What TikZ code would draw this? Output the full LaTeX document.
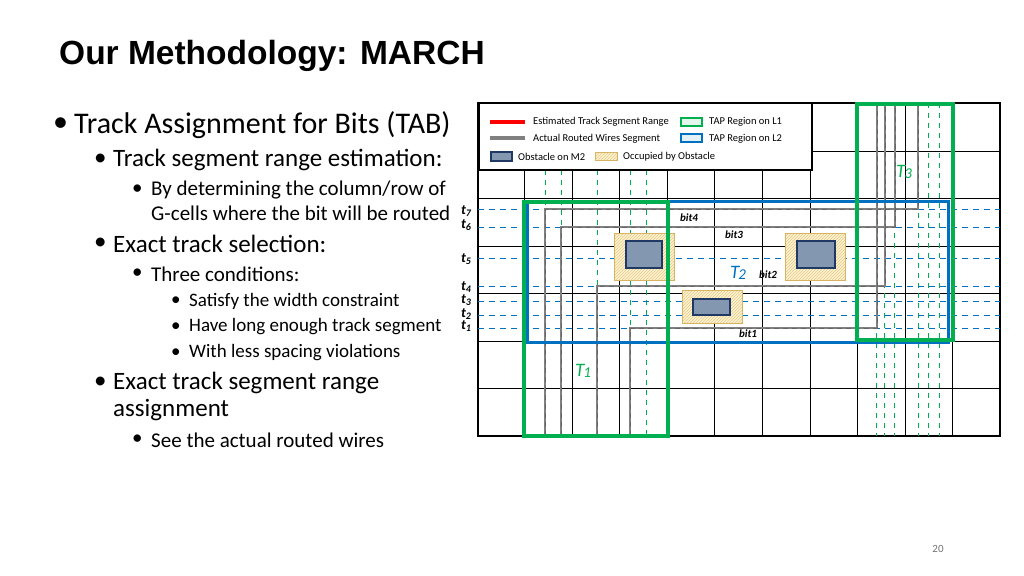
\documentclass[tikz,border=0pt]{standalone}
\usepackage{fontspec}
\setmainfont{Carlito}
\newfontfamily\titlefont{Liberation Sans}
\usetikzlibrary{patterns}
\definecolor{tg}{RGB}{0,176,80}
\definecolor{tb}{RGB}{0,112,192}
\definecolor{obsc}{RGB}{132,151,176}
\definecolor{obsd}{RGB}{31,56,100}
\definecolor{occc}{RGB}{255,242,204}
\definecolor{occd}{RGB}{214,180,100}
\definecolor{wirec}{RGB}{128,128,128}
\begin{document}
\begin{tikzpicture}[x=1pt,y=-1pt,
  grid/.style={line width=1pt,black},
  track/.style={tb,dash pattern=on 6pt off 5pt,line width=0.9pt},
  gtrack/.style={tg,dash pattern=on 5pt off 5pt,line width=0.9pt},
  wire/.style={wirec,line width=2.6pt},
  wired/.style={black!60,dash pattern=on 5pt off 4pt,line width=0.8pt},
  tapg/.style={tg,line width=3.5pt},
  tapb/.style={tb,line width=3pt},
  obs/.style={fill=obsc,draw=obsd,line width=1.2pt},
  blab/.style={font=\bfseries\itshape\fontsize{11}{11}\selectfont,inner sep=0pt},
  tlab/.style={font=\bfseries\itshape\fontsize{14}{14}\selectfont,inner sep=0pt},
  leg/.style={font=\fontsize{10.5}{11}\selectfont,anchor=west,inner sep=0pt},
  L1/.style={anchor=west,inner sep=0pt,font=\fontsize{30}{30}\selectfont},
  L2/.style={anchor=west,inner sep=0pt,font=\fontsize{25}{25}\selectfont},
  L3/.style={anchor=west,inner sep=0pt,font=\fontsize{21}{21}\selectfont},
  L4/.style={anchor=west,inner sep=0pt,font=\fontsize{19}{19}\selectfont},
  Tl/.style={font=\itshape\fontsize{19}{19}\selectfont,inner sep=0pt}]
\useasboundingbox (0,0) rectangle (1024,575);
\node[anchor=west,inner sep=0pt,font=\titlefont\bfseries\fontsize{33.5}{34}\selectfont] (title) at (59,56) {Our Methodology: MARCH};
% left text
\node[L1] (d1) at (53,125) {\textbullet}; \node[L1] (b1) at (74,125) {Track Assignment for Bits (TAB)};
\node[L2] (d2) at (94,160) {\textbullet}; \node[L2] (b2) at (113,160) {Track segment range estimation:};
\node[L3] (d3) at (132,190) {\textbullet}; \node[L3] (b3) at (151,190) {By determining the column/row of};
\node[L3] (b3b) at (151,213) {G-cells where the bit will be routed};
\node[L2] (d4) at (94,244) {\textbullet}; \node[L2] (b4) at (113,244) {Exact track selection:};
\node[L3] (d5) at (132,274) {\textbullet}; \node[L3] (b5) at (151,274) {Three conditions:};
\node[L4] (d6) at (171,301) {\textbullet}; \node[L4] (b6) at (189,301) {Satisfy the width constraint};
\node[L4] (d7) at (171,327) {\textbullet}; \node[L4] (b7) at (189,327) {Have long enough track segment};
\node[L4] (d8) at (171,353) {\textbullet}; \node[L4] (b8) at (189,353) {With less spacing violations};
\node[L2] (d9) at (94,383) {\textbullet}; \node[L2] (b9) at (113,383) {Exact track segment range};
\node[L2] (b9b) at (113,410) {assignment};
\node[L3] (d10) at (132,440) {\textbullet}; \node[L3] (b10) at (151,440) {See the actual routed wires};
\node[font=\fontsize{11}{11}\selectfont,text=black!55] (pg) at (938,549) {20};
% grid
\foreach \x in {524,572,619,667,714,762,810,857,905,952} \draw[grid] (\x,103) -- (\x,436);
\foreach \y in {151,198,246,293,341,388} \draw[grid] (478,\y) -- (1000,\y);
\draw[line width=2pt] (478,103) rectangle (1000,436);
% green dashed tracks
\foreach \x in {545,561,597,630,646} \draw[gtrack] (\x,170) -- (\x,436);
\foreach \x in {876,884,894,918,928,939} \draw[gtrack] (\x,103) -- (\x,436);
% blue tracks
\foreach \y in {209,227,258,286,301,315,328} \draw[track] (478,\y) -- (1000,\y);
% obstacles
\foreach \a/\b/\c/\d/\e/\f/\g/\h in {614/233/674/280/626/241/662/268,785/233/845/280/797/241/835/268,682/290/742/323/693/299/730/315}{
  \fill[occc] (\a,\b) rectangle (\c,\d);
  \fill[pattern=north east lines,pattern color=occd!70] (\a,\b) rectangle (\c,\d);
  \draw[occd,line width=0.7pt] (\a,\b) rectangle (\c,\d);
  \draw[obs] (\e,\f) rectangle (\g,\h);}
% wires
\foreach \xl/\y/\xr in {545/209/918,561/227/895,597/286/885,630/328/877}{
  \draw[wire] (\xl,436) -- (\xl,\y) -- (\xr,\y) -- (\xr,103);
  \draw[wired] (\xl,436) -- (\xl,\y) -- (\xr,\y) -- (\xr,103);}
% TAP regions
\draw[tapb] (527,201) rectangle (948,342);
\draw[tapg] (524,202) rectangle (668,436);
\draw[tapg] (857,104) rectangle (953,340);
% legend
\node[draw=black,line width=1.5pt,fill=white,minimum width=333pt,minimum height=66pt,anchor=north west,inner sep=0pt] (legend) at (478,103) {};
\draw[red,line width=3.5pt] (490,122) -- (525,122);
\node[leg] (l1) at (533,122) {Estimated Track Segment Range};
\draw[wire,line width=3.5pt] (490,138) -- (525,138);
\node[leg] (l2) at (533,139) {Actual Routed Wires Segment};
\draw[obs] (491,152) rectangle (512,161);
\node[leg] (l3) at (518,157) {Obstacle on M2};
\fill[occc] (595,152) rectangle (617,160);
\fill[pattern=north east lines,pattern color=occd!70] (595,152) rectangle (617,160);
\draw[occd,line width=0.7pt] (595,152) rectangle (617,160);
\node[leg] (l4) at (623,157) {Occupied by Obstacle};
\draw[tg,line width=2pt,fill=tg!10] (681,118) rectangle (702,126);
\node[leg] (l5) at (709,122) {TAP Region on L1};
\draw[tb,line width=2pt,fill=tb!10] (681,134) rectangle (702,142);
\node[leg] (l6) at (709,139) {TAP Region on L2};
% labels
\foreach \n/\y/\s in {t7/211/7,t6/225/6,t5/259/5,t4/287/4,t3/300/3,t2/314/2,t1/326/1}
  \node[tlab] (\n) at (466,\y) {t\kern-0.3pt\raisebox{-1.5pt}{\fontsize{10}{10}\selectfont\s}};
\node[blab] (bit4) at (689,218) {bit4};
\node[blab] (bit3) at (734,235) {bit3};
\node[blab] (bit2) at (768,275) {bit2};
\node[blab] (bit1) at (748,334) {bit1};
\node[Tl,text=tb] (T2) at (738,273) {T\kern-1pt\raisebox{-1.5pt}{\fontsize{15}{15}\selectfont 2}};
\node[Tl,text=tg] (T1) at (583,371) {T\kern-1pt\raisebox{-1.5pt}{\fontsize{15}{15}\selectfont 1}};
\node[Tl,text=tg] (T3) at (904,172) {T\kern-1pt\raisebox{-1.5pt}{\fontsize{15}{15}\selectfont 3}};
\end{tikzpicture}
\end{document}
